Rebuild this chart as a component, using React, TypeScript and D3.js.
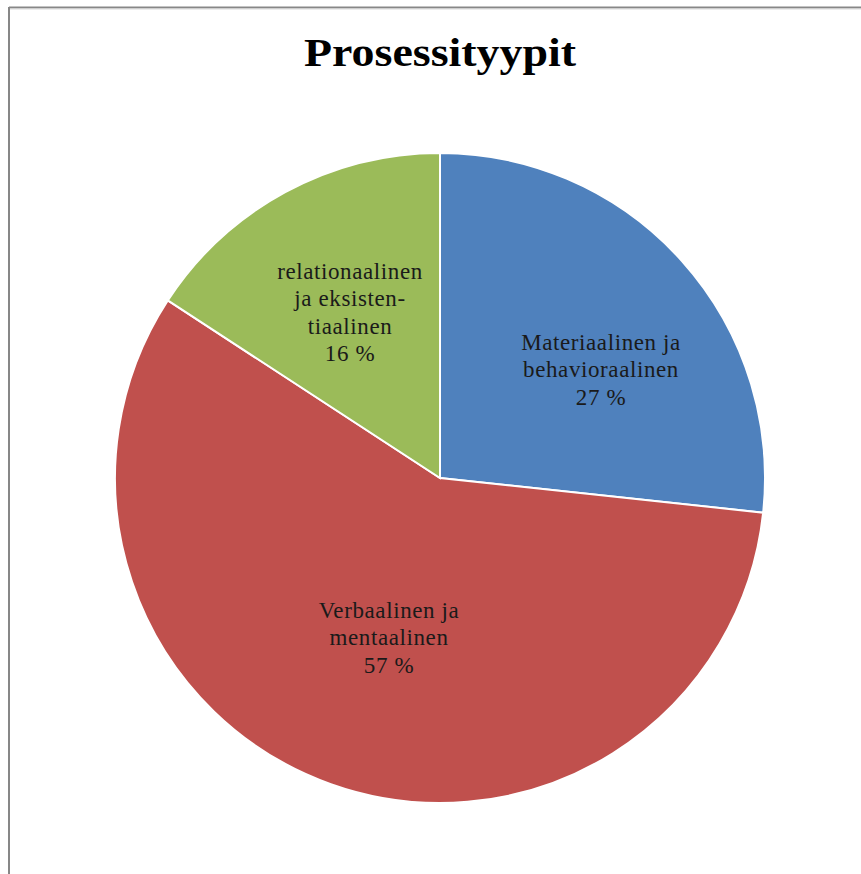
import React from "react";
import * as d3 from "d3";

const categories = ["Materiaalinen ja behavioraalinen", "Verbaalinen ja mentaalinen", "relationaalinen ja eksistentiaalinen"];
const values = [26.7, 57.5, 15.8];
const labelLines = [
  ["Materiaalinen ja", "behavioraalinen", "27 %"],
  ["Verbaalinen ja", "mentaalinen", "57 %"],
  ["relationaalinen", "ja eksisten-", "tiaalinen", "16 %"],
];
const colors = ["#4F81BD", "#C0504D", "#9BBB59"];
const labelCenters = [
  [601, 369],
  [389, 637],
  [350, 312],
];

export default function App() {
  const W = 861, H = 874;
  const cx = 440, cy = 478, r = 325;
  const pie = d3.pie<number>().sort(null).value((d) => d);
  const arcs = pie(values);
  const arc = d3.arc<d3.PieArcDatum<number>>().innerRadius(0).outerRadius(r);
  const font = "'Liberation Serif', 'DejaVu Serif', serif";
  return (
    <svg width={W} height={H} style={{ position: "absolute", left: 0, top: 0 }}>
      <rect x={0} y={0} width={W} height={H} fill="#fff" />
      <line x1={9} y1={7.5} x2={W} y2={7.5} stroke="#878787" strokeWidth={2} />
      <line x1={9} y1={7} x2={9} y2={H} stroke="#878787" strokeWidth={2} />
      <line x1={10} y1={9} x2={W} y2={9} stroke="#d9d9d9" strokeWidth={1} />
      <text x={304} y={66} fontFamily={font} fontWeight="bold" fontSize={40} fill="#000" textLength={272} lengthAdjust="spacingAndGlyphs">
        Prosessityypit
      </text>
      <g transform={`translate(${cx},${cy})`}>
        {arcs.map((a, i) => (
          <path key={categories[i]} d={arc(a) || ""} fill={colors[i]} stroke="#fff" strokeWidth={2} />
        ))}
      </g>
      {labelLines.map((lines, i) => {
        const [lx, ly] = labelCenters[i];
        const lh = 27.5;
        const y0 = ly - ((lines.length - 1) * lh) / 2;
        return (
          <text key={i} textAnchor="middle" fontFamily={font} fontSize={23} letterSpacing={0.6} fill="#1a1a1a">
            {lines.map((t, j) => (
              <tspan key={j} x={lx} y={y0 + j * lh} dy="0.35em">
                {t}
              </tspan>
            ))}
          </text>
        );
      })}
    </svg>
  );
}
